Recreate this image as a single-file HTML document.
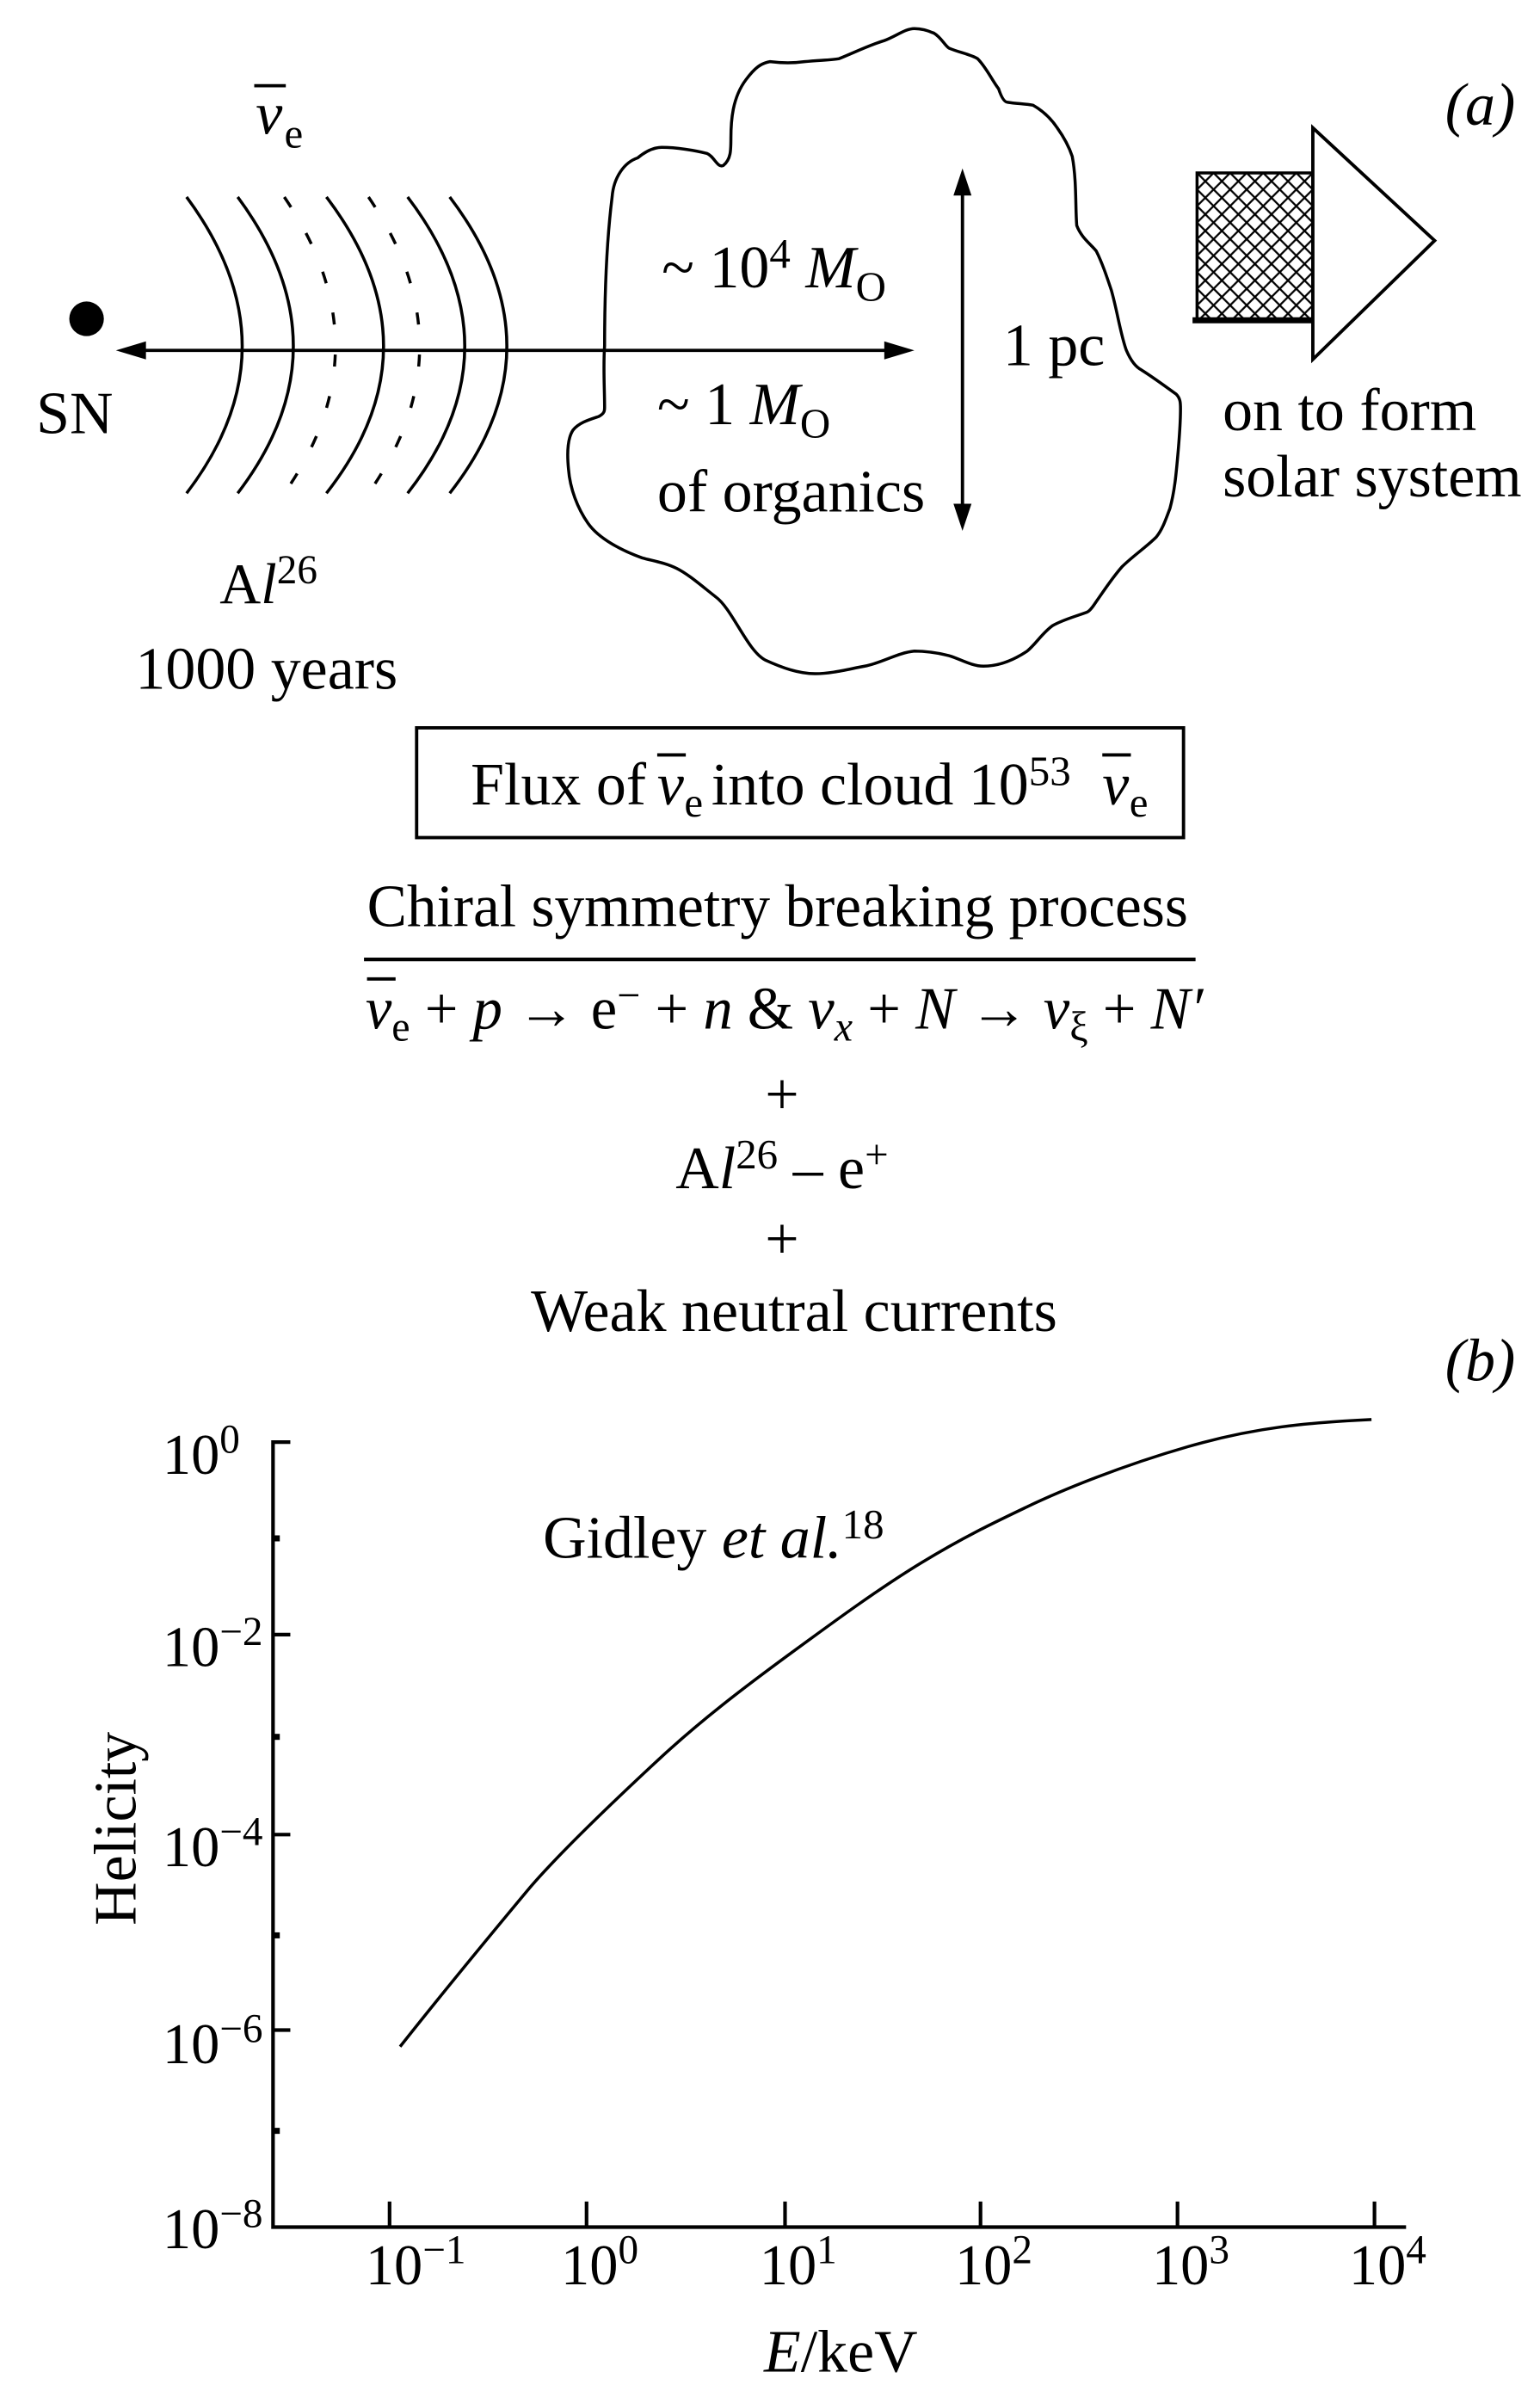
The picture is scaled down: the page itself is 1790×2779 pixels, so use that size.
<!DOCTYPE html>
<html><head><meta charset="utf-8"><style>
html,body{margin:0;padding:0;background:#fff}
svg{display:block}
text{font-family:"Liberation Serif",serif;fill:#000}
</style></head><body>
<svg width="1790" height="2779" viewBox="0 0 1024 1590" xmlns="http://www.w3.org/2000/svg">
<defs>
<pattern id="hatch" width="11" height="11" patternUnits="userSpaceOnUse" x="796" y="115">
<path d="M0 0L11 11M11 0L0 11" stroke="#000" stroke-width="1.3"/>
</pattern>
</defs>
<text x="961" y="83" font-size="40" font-style="italic">(a)</text>
<text x="170" y="89" font-size="40" font-style="italic">v</text>
<text x="189" y="98" font-size="28">e</text>
<line x1="169" y1="57" x2="190" y2="57" stroke="#000" stroke-width="2.2"/>
<circle cx="57.5" cy="212" r="11.5" fill="#000"/>
<text x="24" y="288" font-size="40">SN</text>
<line x1="88" y1="233" x2="598" y2="233" stroke="#000" stroke-width="2.2"/>
<path d="M77 233L97 227L97 239Z" fill="#000"/>
<path d="M608 233L588 227L588 239Z" fill="#000"/>
<g fill="none" stroke="#000" stroke-width="2">
<path d="M124 131Q198 231 124 328"/>
<path d="M158 131Q232 231 158 328"/>
<path d="M189 131Q257 231 189 328" stroke-dasharray="8 20"/>
<path d="M217 131Q293 231 217 328"/>
<path d="M245 131Q313 231 245 328" stroke-dasharray="8 20"/>
<path d="M271 131Q347 231 271 328"/>
<path d="M299 131Q375 231 299 328"/>
</g>
<text x="146" y="401" font-size="38">A<tspan font-style="italic">l</tspan><tspan font-size="27" dy="-13">26</tspan></text>
<text x="90" y="458" font-size="40">1000 years</text>
<path fill="none" stroke="#000" stroke-width="2" stroke-linejoin="round" d="M407 131 C408 118 415 108 424 105 C430 100 435 98 440 98 C450 98 462 100 470 102 C475 104 477 112 481 110 C486 106 486 100 486 92 C486 80 487 65 496 53 C502 45 506 42 512 41 C520 42 528 42 535 41 C545 40 552 40 558 39 C568 35 578 30 588 27 C596 24 602 19 608 19 C614 19 618 21 621 22 C626 25 628 30 631 32 C638 35 645 36 650 39 C656 45 660 54 664 59 C666 65 668 68 670 68 C676 69 682 69 687 70 C694 74 699 79 703 85 C708 92 711 98 713 104 C716 120 715 138 716 150 C719 158 725 162 729 167 C733 175 736 184 739 193 C743 207 745 222 749 233 C752 240 755 244 759 246 C767 251 775 257 782 262 C785 265 785 268 785 272 C785 283 784 294 783 305 C782 316 781 327 778 338 C775 346 773 352 769 357 C762 364 753 370 746 377 C739 385 734 393 729 400 C727 403 725 406 723 407 C715 410 707 412 700 416 C693 421 689 428 683 433 C674 439 664 443 654 443 C646 443 638 438 631 436 C623 434 616 433 608 433 C597 434 586 441 575 443 C564 445 553 448 542 448 C531 448 520 444 509 439 C497 433 487 405 476 397 C467 390 458 382 450 378 C442 374 434 373 427 371 C413 366 398 358 391 348 C384 338 379 325 378 312 C377 302 377 292 381 286 C385 281 392 279 398 277 C402 275 402 273 402 271 C402 258 401 244 402 230 C402 198 403 163 407 131 Z"/>
<text x="440" y="191" font-size="40">~ 10<tspan font-size="28" dy="-13">4</tspan><tspan dy="13" font-style="italic"> M</tspan><tspan font-size="28" dy="9">O</tspan></text>
<text x="667" y="243" font-size="40">1 pc</text>
<text x="437" y="282" font-size="40">~ 1 <tspan font-style="italic">M</tspan><tspan font-size="28" dy="9">O</tspan></text>
<text x="437" y="340" font-size="40">of organics</text>
<line x1="640" y1="124" x2="640" y2="341" stroke="#000" stroke-width="2.2"/>
<path d="M640 112L634 130L646 130Z" fill="#000"/>
<path d="M640 353L634 335L646 335Z" fill="#000"/>
<rect x="796" y="115" width="77" height="98" fill="url(#hatch)" stroke="#000" stroke-width="2"/>
<line x1="793" y1="213" x2="873" y2="213" stroke="#000" stroke-width="4"/>
<path d="M873 85L954 160L873 239Z" fill="#fff" stroke="#000" stroke-width="2.2"/>
<text x="813" y="286" font-size="40">on to form</text>
<text x="813" y="330" font-size="40">solar system</text>
<rect x="277" y="484" width="510" height="73" fill="none" stroke="#000" stroke-width="2.2"/>
<text x="313" y="535" font-size="40">Flux of</text>
<text x="437" y="535" font-size="40" font-style="italic">v</text>
<text x="455" y="543" font-size="28">e</text>
<line x1="437" y1="502" x2="456" y2="502" stroke="#000" stroke-width="2.2"/>
<text x="473" y="535" font-size="40">into cloud 10<tspan font-size="28" dy="-13">53</tspan></text>
<text x="733" y="535" font-size="40" font-style="italic">v</text>
<text x="751" y="543" font-size="28">e</text>
<line x1="733" y1="502" x2="752" y2="502" stroke="#000" stroke-width="2.2"/>
<text x="244" y="616" font-size="40" textLength="546" lengthAdjust="spacingAndGlyphs">Chiral symmetry breaking process</text>
<line x1="242" y1="638" x2="795" y2="638" stroke="#000" stroke-width="2.4"/>
<text x="243" y="684" font-size="40" textLength="557" lengthAdjust="spacingAndGlyphs"><tspan font-style="italic">v</tspan><tspan font-size="28" dy="8">e</tspan><tspan dy="-8"> + </tspan><tspan font-style="italic">p</tspan> → e<tspan font-size="28" dy="-13">−</tspan><tspan dy="13"> + </tspan><tspan font-style="italic">n</tspan> &amp; <tspan font-style="italic">v</tspan><tspan font-size="28" dy="8" font-style="italic">x</tspan><tspan dy="-8"> + </tspan><tspan font-style="italic">N</tspan> → <tspan font-style="italic">v</tspan><tspan font-size="28" dy="8">ξ</tspan><tspan dy="-8"> + </tspan><tspan font-style="italic">N′</tspan></text>
<line x1="244" y1="651" x2="263" y2="651" stroke="#000" stroke-width="2.2"/>
<text x="520" y="741" font-size="40" text-anchor="middle">+</text>
<text x="520" y="790" font-size="40" text-anchor="middle">A<tspan font-style="italic">l</tspan><tspan font-size="28" dy="-13">26</tspan><tspan dy="13"> – e</tspan><tspan font-size="28" dy="-13">+</tspan></text>
<text x="520" y="837" font-size="40" text-anchor="middle">+</text>
<text x="353" y="885" font-size="40" textLength="350" lengthAdjust="spacingAndGlyphs">Weak neutral currents</text>
<text x="961" y="918" font-size="40" font-style="italic">(b)</text>
<g stroke="#000" stroke-width="2.4" fill="none">
<path d="M193 959L181.5 959L181.5 1481L935 1481"/>
<line x1="181.5" y1="1087" x2="193" y2="1087"/>
<line x1="181.5" y1="1220" x2="193" y2="1220"/>
<line x1="181.5" y1="1350" x2="193" y2="1350"/>
<line x1="259" y1="1481" x2="259" y2="1464"/>
<line x1="390" y1="1481" x2="390" y2="1464"/>
<line x1="522" y1="1481" x2="522" y2="1464"/>
<line x1="652" y1="1481" x2="652" y2="1464"/>
<line x1="783" y1="1481" x2="783" y2="1464"/>
<line x1="914" y1="1481" x2="914" y2="1464"/>
</g>
<g fill="#000">
<rect x="181" y="1021" width="5" height="4"/>
<rect x="181" y="1153" width="5" height="4"/>
<rect x="181" y="1285" width="5" height="4"/>
<rect x="181" y="1415" width="5" height="4"/>
</g>
<g font-size="38">
<text x="108" y="980">10<tspan font-size="27" dy="-14">0</tspan></text>
<text x="108" y="1108">10<tspan font-size="27" dy="-14">−2</tspan></text>
<text x="108" y="1241">10<tspan font-size="27" dy="-14">−4</tspan></text>
<text x="108" y="1372">10<tspan font-size="27" dy="-14">−6</tspan></text>
<text x="108" y="1495">10<tspan font-size="27" dy="-14">−8</tspan></text>
<text x="243" y="1519">10<tspan font-size="27" dy="-14">−1</tspan></text>
<text x="373" y="1519">10<tspan font-size="27" dy="-14">0</tspan></text>
<text x="505" y="1519">10<tspan font-size="27" dy="-14">1</tspan></text>
<text x="635" y="1519">10<tspan font-size="27" dy="-14">2</tspan></text>
<text x="766" y="1519">10<tspan font-size="27" dy="-14">3</tspan></text>
<text x="897" y="1519">10<tspan font-size="27" dy="-14">4</tspan></text>
</g>
<text x="508" y="1577" font-size="40"><tspan font-style="italic">E</tspan>/keV</text>
<text x="361" y="1036" font-size="40">Gidley <tspan font-style="italic">et al.</tspan><tspan font-size="28" dy="-13">18</tspan></text>
<text transform="translate(90 1216) rotate(-90)" text-anchor="middle" font-size="40">Helicity</text>
<path fill="none" stroke="#000" stroke-width="2" d="M266 1361 C300 1318 330 1282 350 1258 S 410 1196 438 1170 S 495 1122 525 1100 S 585 1056 613 1039 S 660 1013 683 1002 S 745 975 790 962 S 870 946 912 944"/>
</svg>
</body></html>
